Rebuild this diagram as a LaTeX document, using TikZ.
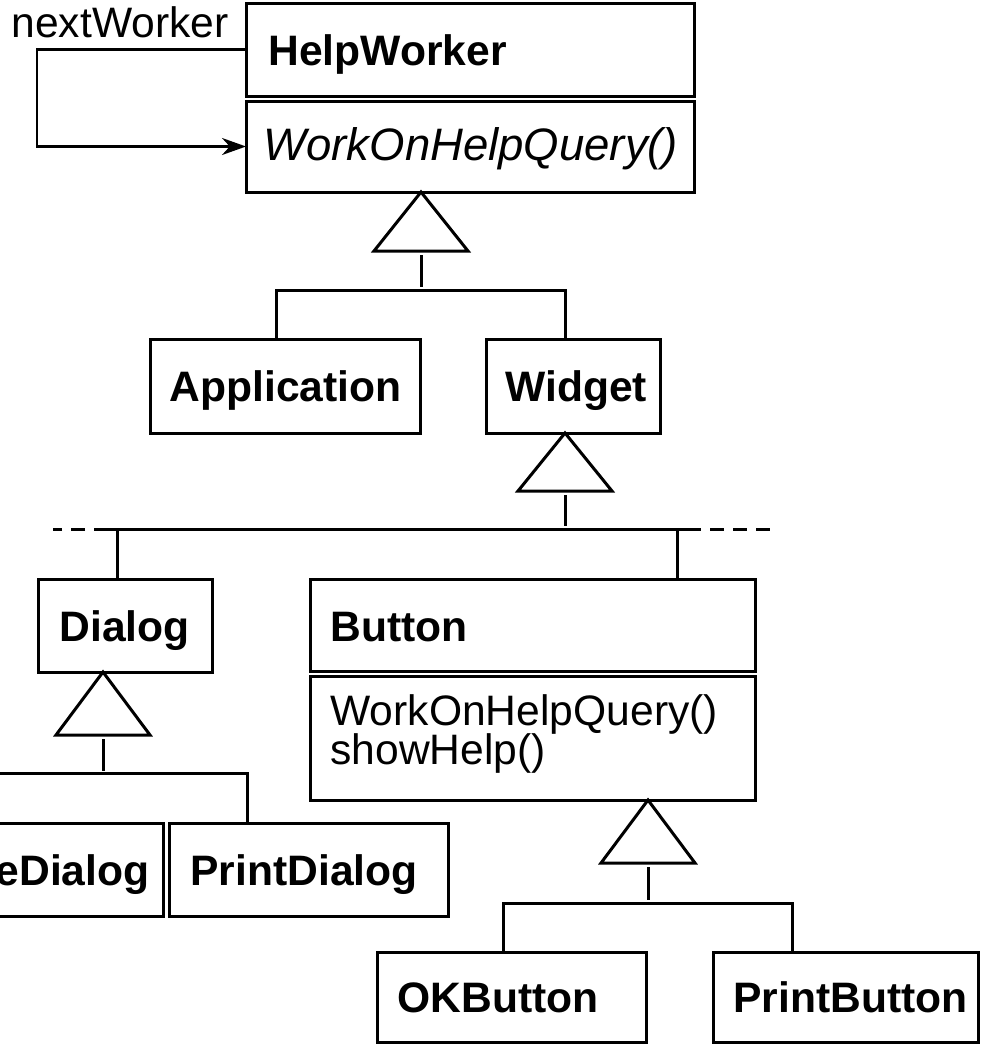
\documentclass[tikz,border=0pt]{standalone}
\usepackage{fontspec}
\setmainfont{Liberation Sans}
\usetikzlibrary{arrows.meta,calc}
\newcommand\diagfont{\fontsize{42.6pt}{44pt}\selectfont}
\newcommand\diagitfont{\fontsize{45.5pt}{47pt}\selectfont\itshape}
\begin{document}
\begin{tikzpicture}[x=1pt,y=-1pt,line width=3pt,
  box/.style={draw,rectangle,inner sep=0pt,outer sep=0pt},
  lbl/.style={anchor=base west,inner sep=0pt,font=\diagfont\bfseries},
  op/.style={anchor=base west,inner sep=0pt,font=\diagfont},
  tri/.style={draw,fill=white,line join=miter},
  link/.style={draw,line cap=butt},
  ext/.style={draw,dash pattern=on 14pt off 9pt}]
\useasboundingbox (0,0) rectangle (984,1044);
\clip (0,0) rectangle (984,1044);

% ---- boxes ----
\node[box,minimum width=448pt,minimum height=93.5pt] (hwtop) at (470,49.75) {};
\node[box,minimum width=448pt,minimum height=91pt] (hwbot) at (470,146.5) {};
\node[box,minimum width=270pt,minimum height=94pt] (app) at (285,386) {};
\node[box,minimum width=174pt,minimum height=94pt] (widget) at (573,386) {};
\node[box,minimum width=174pt,minimum height=93pt] (dialog) at (125,625.5) {};
\node[box,minimum width=445pt,minimum height=92.5pt] (btntop) at (532.5,625.25) {};
\node[box,minimum width=445pt,minimum height=124pt] (btnbot) at (532.5,738) {};
\node[box,minimum width=233pt,minimum height=93pt] (leftdlg) at (46.5,869.5) {};
\node[box,minimum width=279pt,minimum height=93pt] (printdlg) at (308.5,869.5) {};
\node[box,minimum width=269pt,minimum height=90pt] (okbtn) at (511.5,997) {};
\node[box,minimum width=265pt,minimum height=90pt] (printbtn) at (845.5,997) {};

% ---- texts ----
\node[lbl] (t-hw) at (267,65) {HelpWorker};
\node[op,font=\diagitfont] (t-hwop) at (262,160) {WorkOnHelpQuery()};
\node[op] (t-next) at (10,37) {nextWorker};
\node[lbl] (t-app) at (168,401) {Application};
\node[lbl] (t-widget) at (504,401) {Widget};
\node[lbl] (t-dialog) at (58,641) {Dialog};
\node[lbl] (t-btn) at (329,641) {Button};
\node[op] (t-btnop1) at (329,725) {WorkOnHelpQuery()};
\node[op] (t-btnop2) at (329,764) {showHelp()};
\node[lbl,anchor=base east] (t-left) at (151,885) {eDialog};
\node[lbl] (t-pd) at (189,885) {PrintDialog};
\node[lbl] (t-ok) at (396,1012) {OKButton};
\node[lbl] (t-pb) at (732,1012) {PrintButton};

% ---- self association ----
\draw[-{Stealth[length=24pt,width=17pt]},line width=2.6pt]
  (hwtop.west) -- ++(-209,0) |- (hwbot.west);

% ---- generalization 1: HelpWorker ----
\coordinate (a1) at (hwbot.south -| 421,0);
\coordinate (b1) at ($(a1)+(0,59)$);
\coordinate (j1) at ($(a1)+(0,98)$);
\draw[tri] (a1) -- ($(b1)+(-47,0)$) -- ($(b1)+(47,0)$) -- cycle;
\draw[link] ($(b1)+(0,4)$) -- ($(j1)+(0,-3)$);
\draw[link] (app.north -| 276,0) |- (j1) -| (widget.north -| 565,0);

% ---- generalization 2: Widget ----
\coordinate (a2) at (widget.south -| 565,0);
\coordinate (b2) at ($(a2)+(0,58)$);
\coordinate (j2) at ($(a2)+(0,96)$);
\draw[tri] (a2) -- ($(b2)+(-47,0)$) -- ($(b2)+(47,0)$) -- cycle;
\draw[link] ($(b2)+(0,4)$) -- ($(j2)+(0,-3)$);
\coordinate (dl) at (dialog.north -| 117,0);
\coordinate (br) at (btntop.north -| 677,0);
\draw[link] (dl) |- (j2) -| (br);
\draw[link] (j2 -| 108,0) -- (j2 -| dl) (j2 -| br) -- (j2 -| 687,0);
\draw[ext] (j2 -| 108,0) -- (j2 -| 53,0);
\draw[ext] (j2 -| 687,0) -- (j2 -| 773,0);

% ---- generalization 3: Dialog ----
\coordinate (a3) at (dialog.south -| 103,0);
\coordinate (b3) at ($(a3)+(0,63)$);
\coordinate (j3) at ($(a3)+(0,101.5)$);
\draw[tri] (a3) -- ($(b3)+(-47,0)$) -- ($(b3)+(47,0)$) -- cycle;
\draw[link] ($(b3)+(0,4)$) -- ($(j3)+(0,-3)$);
\draw[link] (leftdlg.north -| -20,0) |- (j3) -| (printdlg.north -| 247,0);

% ---- generalization 4: Button ----
\coordinate (a4) at (btnbot.south -| 648,0);
\coordinate (b4) at ($(a4)+(0,63)$);
\coordinate (j4) at ($(a4)+(0,103)$);
\draw[tri] (a4) -- ($(b4)+(-47,0)$) -- ($(b4)+(47,0)$) -- cycle;
\draw[link] ($(b4)+(0,4)$) -- ($(j4)+(0,-3)$);
\draw[link] (okbtn.north -| 503,0) |- (j4) -| (printbtn.north -| 792,0);
\end{tikzpicture}
\end{document}
